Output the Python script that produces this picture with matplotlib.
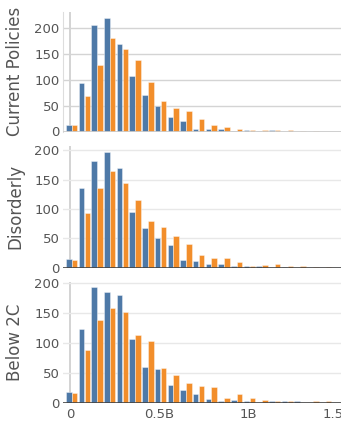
import matplotlib
matplotlib.use('Agg')
import matplotlib.pyplot as plt
import numpy as np

# bin index -> approximate bin centre, in billions
BIN_START = 0.008
BIN_WIDTH = 0.0713
N_BINS = 21

scenarios = ['Current Policies', 'Disorderly', 'Below 2C']

current_a = [12, 94, 206, 220, 169, 108, 71, 49, 28, 20, 4, 4, 4, 1, 3, 1, 3, 0, 0, 0, 0]
current_b = [12, 69, 129, 182, 159, 138, 96, 60, 45, 40, 24, 13, 8, 4, 3, 3, 3, 3, 1, 1, 0]
disorderly_a = [15, 135, 181, 196, 170, 95, 67, 51, 39, 13, 11, 7, 6, 3, 3, 3, 0, 2, 0, 0, 0]
disorderly_b = [13, 93, 135, 165, 144, 115, 80, 69, 54, 41, 21, 16, 17, 9, 3, 4, 6, 3, 3, 2, 2]
below2c_a = [17, 123, 192, 184, 180, 106, 60, 56, 30, 21, 14, 6, 3, 4, 2, 0, 3, 3, 3, 0, 0]
below2c_b = [16, 88, 138, 158, 151, 112, 103, 57, 46, 33, 28, 26, 8, 15, 7, 4, 2, 2, 0, 2, 2]

series = [(current_a, current_b), (disorderly_a, disorderly_b), (below2c_a, below2c_b)]
y_tops = [231.5, 207, 201.5]
xticks = [0, 0.5, 1.0, 1.5]
xtick_labels = ['0', '0.5B', '1B', '1.5B']

BLUE = '#4e79a7'
ORANGE = '#f28e2b'
TXT = '#555555'

# panel rectangles in figure pixels (top, baseline)
W, H = 341, 421
panels = [(12, 131.5), (146, 267.7), (281.7, 402.7)]
left_px = 63

fig = plt.figure(figsize=(W / 100, H / 100), dpi=100)
centres = BIN_START + BIN_WIDTH * np.arange(N_BINS)
bw = 0.031

for i, (name, (a, b)) in enumerate(zip(scenarios, series)):
  top, base = panels[i]
  ax = fig.add_axes([left_px / W, 1 - base / H, (W - left_px) / W, (base - top) / H])
  ax.bar(centres - bw / 2 - 0.001, a, width=bw, color=BLUE,
         edgecolor=(1, 1, 1, 0.45), linewidth=0.6, zorder=3)
  ax.bar(centres + bw / 2 + 0.001, b, width=bw, color=ORANGE,
         edgecolor=(1, 1, 1, 0.45), linewidth=0.6, zorder=3)
  ax.set_xlim(-0.041, 1.521)
  ax.set_ylim(0, y_tops[i])
  ax.set_yticks([0, 50, 100, 150, 200])
  ax.grid(axis='y', color='#d4d4d4' if i == 0 else '#e8e8e8', linewidth=1, zorder=0)
  ax.axvline(0, color='#cccccc', linewidth=1.2, zorder=1)
  for s in ax.spines.values():
    s.set_visible(False)
  if i == 0:
    ax.spines['left'].set_visible(True)
    ax.spines['left'].set_color('#dddddd')
    ax.axhline(0, color='#cccccc', linewidth=2, zorder=4)
  else:
    ax.axhline(0, color='#444444', linewidth=1.2, zorder=4)
  ax.tick_params(length=0, labelsize=9.5, labelcolor=TXT, pad=2.5)
  if i == 2:
    ax.set_xticks(xticks)
    ax.set_xticklabels(xtick_labels)
    ax.tick_params(axis='x', pad=4)
  else:
    ax.set_xticks([])
  ax.set_ylabel(name, fontsize=12, color=TXT, labelpad=7)

fig.savefig('out.png', dpi=100)
